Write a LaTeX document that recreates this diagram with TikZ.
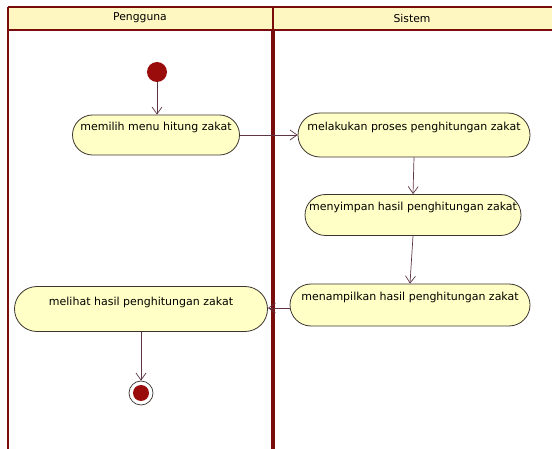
\documentclass[tikz,border=0pt]{standalone}
\usepackage{fontspec}
\setmainfont{DejaVu Sans}
\usetikzlibrary{arrows.meta,shapes.misc}
\definecolor{framered}{HTML}{7A0C0C}
\definecolor{headfill}{HTML}{FFF7C2}
\definecolor{actfill}{HTML}{FFFFC6}
\definecolor{actline}{HTML}{3C3530}
\definecolor{flowline}{HTML}{5E3545}
\definecolor{dotred}{HTML}{9A0C0C}
\tikzset{
  activity/.style={rounded rectangle, draw=actline, fill=actfill, line width=0.8pt,
    inner sep=0pt, font=\fontsize{11}{13}\selectfont},
  flow/.style={draw=flowline, line width=0.7pt,
    -{Straight Barb[length=7pt,width=10pt,line width=0.7pt]}},
  lanehead/.style={font=\fontsize{10.8}{12}\selectfont},
}
\newcommand{\acttext}[1]{\raisebox{4pt}[0pt][0pt]{#1}}
\begin{document}
\begin{tikzpicture}[x=1pt,y=-1pt]
  \useasboundingbox[fill=white] (0,0) rectangle (552,449);
  % swimlane header
  \fill[headfill] (8,7) rectangle (552,30);
  \draw[framered, line width=1.2pt] (8,7) -- (552,7);
  \draw[framered, line width=1.2pt] (8,30) -- (552,30);
  \draw[framered, line width=1.2pt] (273,7) -- (273,30);
  % lane borders
  \draw[framered, line width=2.4pt] (8,7) -- (8,449);
  \draw[framered, line width=4pt] (273,30) -- (273,449);
  \node[lanehead] (hpengguna) at (140,18) {Pengguna};
  \node[lanehead] (hsistem) at (412,18) {Sistem};

  % start and end
  \node[circle, fill=dotred, minimum size=20pt, inner sep=0pt] (init) at (157,72) {};
  \node[circle, draw=actline, fill=white, line width=0.7pt, minimum size=24pt, inner sep=0pt] (final) at (141,393) {};
  \node[circle, fill=dotred, minimum size=16pt, inner sep=0pt] (finaldot) at (final) {};

  % activities
  \node[activity, minimum width=167pt, minimum height=40pt] (memilih) at (156,135)
    {\acttext{memilih menu hitung zakat}};
  \node[activity, minimum width=232pt, minimum height=44pt] (melakukan) at (414,135)
    {\acttext{melakukan proses penghitungan zakat}};
  \node[activity, minimum width=216pt, minimum height=41pt] (menyimpan) at (413,215)
    {\acttext{menyimpan hasil penghitungan zakat}};
  \node[activity, minimum width=240pt, minimum height=42pt] (menampilkan) at (410,305)
    {\acttext{menampilkan hasil penghitungan zakat}};
  \node[activity, minimum width=253pt, minimum height=45pt] (melihat) at (141,309)
    {\acttext{melihat hasil penghitungan zakat}};

  % control flow
  \draw[flow] (init) -- (init |- memilih.north);
  \draw[flow] (memilih.east) -- (melakukan.west);
  \draw[flow] (melakukan.south) -- (menyimpan.north);
  \draw[flow] (menyimpan.south) -- (menampilkan.north);
  \draw[flow] ([yshift=-3pt]menampilkan.west) -- ([yshift=-3pt]menampilkan.west -| melihat.east);
  \draw[flow] (melihat.south) -- (final.north);
\end{tikzpicture}
\end{document}
